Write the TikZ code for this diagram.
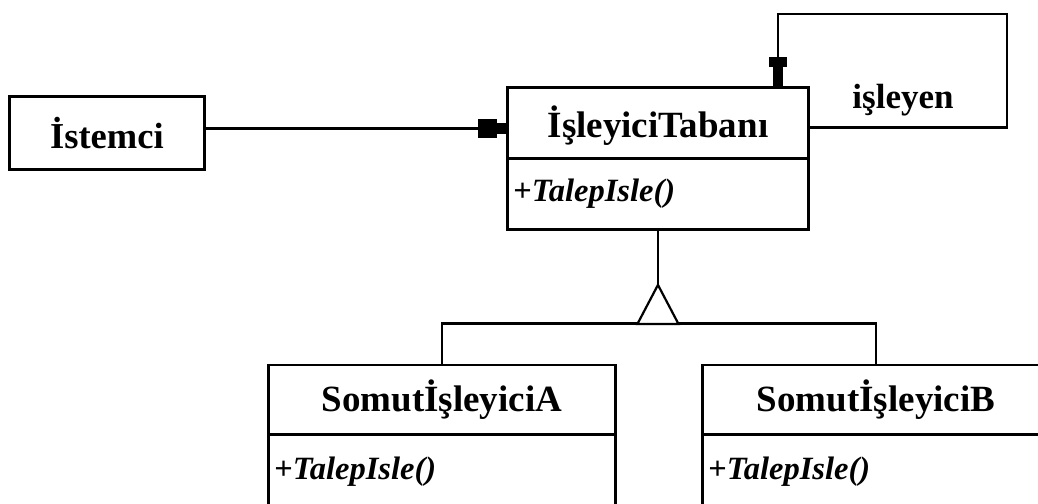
\documentclass[tikz,border=0pt]{standalone}
\usepackage{fontspec}
\setmainfont{Liberation Serif}
\usetikzlibrary{calc}

\tikzset{
  umlline/.style={line width=2.9pt},
  namebox/.style={draw, umlline, rectangle, inner sep=0pt, anchor=north west,
    font=\fontsize{37}{42}\selectfont\bfseries},
  opsbox/.style={draw, umlline, rectangle, anchor=north west, inner xsep=6pt,
    align=left, font=\fontsize{32.5}{38}\selectfont\bfseries},
  lbl/.style={font=\fontsize{35}{40}\selectfont\bfseries, inner sep=0pt},
  tipfill/.style={fill=black},
  gentri/.style={draw, line width=2.2pt, fill=white, line join=miter}
}

\begin{document}
\begin{tikzpicture}[x=1pt, y=-1pt]
  \useasboundingbox (0,0) rectangle (1038,503);

  % client
  \node[namebox, minimum width=195pt, minimum height=73pt, font=\fontsize{36.5}{42}\selectfont\bfseries]
    (client) at (8,95) {İstemci};

  % handler base class
  \node[namebox, minimum width=301pt, minimum height=71pt, text depth=0pt, text height=30pt]
    (base) at (506,86) {İşleyiciTabanı};
  \node[opsbox, minimum width=301pt, minimum height=71pt, text width=289pt] (baseops) at (506,157)
    {+\itshape TalepIsle()};

  % concrete handlers
  \node[namebox, minimum width=347pt, minimum height=69.5pt] (clsA) at (267,363.5) {SomutİşleyiciA};
  \node[opsbox, minimum width=347pt, minimum height=74pt, text width=335pt] (clsAops) at (267,433)
    {+\itshape TalepIsle()};
  \node[namebox, minimum width=347pt, minimum height=69.5pt] (clsB) at (701,363.5) {SomutİşleyiciB};
  \node[opsbox, minimum width=347pt, minimum height=74pt, text width=335pt] (clsBops) at (701,433)
    {+\itshape TalepIsle()};

  % client -> base association
  \coordinate (cliOut) at ([yshift=4.5pt]client.east);
  \coordinate (baseIn) at ([yshift=-5.5pt]base.west);
  \draw[umlline] (cliOut) -- (baseIn);
  \fill[tipfill] ($(baseIn)+(-28,-9.5)$) rectangle ($(baseIn)+(-9,9.5)$);
  \fill[tipfill] ($(baseIn)+(-10,-5.5)$) rectangle ($(baseIn)+(0,5.5)$);

  % successor self-association
  \coordinate (selfOut) at ([yshift=-4.5pt]base.east);
  \coordinate (selfIn) at ([xshift=120pt]base.north);
  \coordinate (loopCorner) at (1007,14);
  \draw[umlline] (selfOut) -| (loopCorner) -| (selfIn);
  \fill[tipfill] ($(selfIn)+(-9,-29)$) rectangle ($(selfIn)+(9,-19)$);
  \fill[tipfill] ($(selfIn)+(-5,-20)$) rectangle ($(selfIn)+(5,0)$);
  \node[lbl] (succLabel) at (903,100) {işleyen};

  % generalization
  \coordinate (apex) at ($(baseops.south)+(0,54)$);
  \coordinate (bar) at ($(apex)+(0,39)$);
  \draw[umlline] (baseops.south) -- (apex);
  \draw[umlline] (clsA.north) -- (clsA.north |- bar) -- (clsB.north |- bar) -- (clsB.north);
  \draw[gentri] (apex) -- ($(bar)+(-20.5,0)$) -- ($(bar)+(20.5,0)$) -- cycle;
\end{tikzpicture}
\end{document}
